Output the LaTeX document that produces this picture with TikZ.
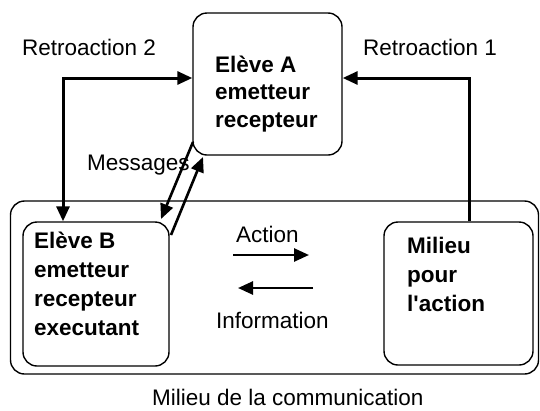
\documentclass[tikz,border=0pt]{standalone}
\usepackage{fontspec}
\setmainfont{Liberation Sans}
\usetikzlibrary{arrows.meta}
\begin{document}
\begin{tikzpicture}[x=1pt,y=-1pt,
  box/.style={draw,line width=1.4pt,rounded corners=14pt,inner sep=0pt},
  lbl/.style={anchor=base west,inner sep=0pt,font=\fontsize{22.5}{27}\selectfont},
  btxt/.style={anchor=base west,inner sep=0pt,align=left,font=\fontsize{22.5}{29}\selectfont\bfseries},
  tip/.tip={Triangle[length=15pt,width=13pt]},
  fb/.style={line width=3pt,-tip},
  fbb/.style={line width=3pt,tip-tip},
  msg/.style={line width=2.6pt,-tip},
  act/.style={line width=2.6pt,-tip}
]
\useasboundingbox (0,0) rectangle (540,410);
% outer box
\node[box,minimum width=528pt,minimum height=173pt] (outer) at (274.5,287.5) {};
% boxes
\node[box,minimum width=149pt,minimum height=142pt] (A) at (267.5,84) {};
\node[box,minimum width=146pt,minimum height=144pt] (B) at (96,294) {};
\node[box,minimum width=149pt,minimum height=143pt] (M) at (458.5,293.5) {};
% box texts (anchor at baseline of last line)
\node[btxt,font=\fontsize{22.5}{27.5}\selectfont\bfseries] (At) at (215,127) {Elève A\\emetteur\\recepteur};
\node[btxt] (Bt) at (34,335) {Elève B\\emetteur\\recepteur\\executant};
\node[btxt] (Mt) at (407,311) {Milieu\\pour\\l\textquotesingle action};
% labels
\node[lbl] (r2l) at (22,55) {Retroaction 2};
\node[lbl] (r1l) at (363,55) {Retroaction 1};
\node[lbl] (msgl) at (87,170) {Messages};
\node[lbl] (actl) at (236,242) {Action};
\node[lbl] (infl) at (216,328) {Information};
\node[lbl] (outl) at (152,405) {Milieu de la communication};
% feedback arrows
\coordinate (r2) at (63,78);
\coordinate (r1) at (469,78);
\draw[fbb] (r2 |- B.north) -- (r2) -- (r2 -| A.west);
\draw[fb] (r1 |- M.north) -- (r1) -- (r1 -| A.east);
% messages
\coordinate (m1s) at (193,142);
\coordinate (m1e) at (161,219);
\coordinate (m2s) at (171,235);
\coordinate (m2e) at (203,157);
\draw[msg] (m1s) -- (m1e);
\draw[msg] (m2s) -- (m2e);
% action / information
\coordinate (as) at (233,255);
\coordinate (ae) at (309,255);
\coordinate (is) at (313,288);
\coordinate (ie) at (238,288);
\draw[act] (as) -- (ae);
\draw[act] (is) -- (ie);
\end{tikzpicture}
\end{document}
